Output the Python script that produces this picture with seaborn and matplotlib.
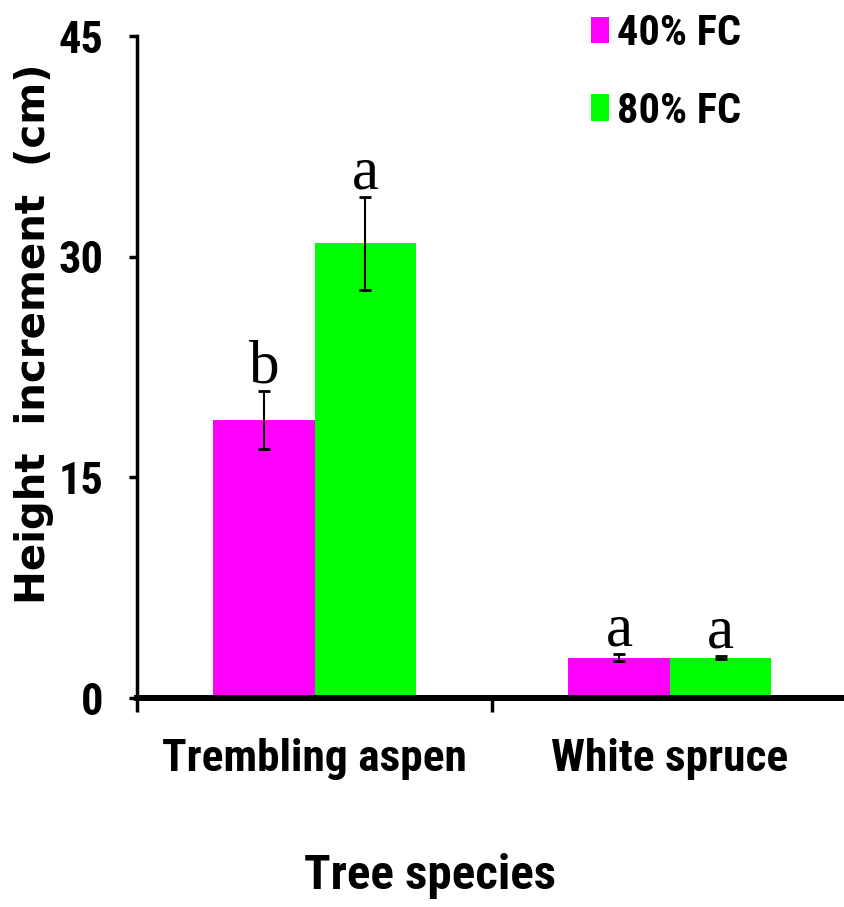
import os
import matplotlib
matplotlib.use("Agg")
import matplotlib.pyplot as plt
import seaborn as sns
import pandas as pd
from matplotlib import font_manager as fm
from matplotlib.ticker import FixedLocator

# ---- data ----
species = ["Trembling aspen", "White spruce"]
treatments = ["40% FC", "80% FC"]
height_40 = [18.9, 2.75]
height_80 = [30.9, 2.75]
err_40 = [1.95, 0.25]
err_80 = [3.15, 0.12]
letters_40 = ["b", "a"]
letters_80 = ["a", "a"]
yticks = [0, 15, 30, 45]
colors = ["#FF00FF", "#00FF00"]

df = pd.DataFrame({
    "species": species * 2,
    "treatment": [treatments[0]] * 2 + [treatments[1]] * 2,
    "height": height_40 + height_80,
})

sns.set_style("white")
plt.rcParams["font.family"] = ["Liberation Sans", "DejaVu Sans"]
for k in ["text.color", "axes.labelcolor", "xtick.color", "ytick.color"]:
    plt.rcParams[k] = "black"

# ---- pick the narrowest suitable bold sans face that is installed ----
prefs = ["liberationsansnarrow-bold.", "arialnarrowbold", "arial narrow bold",
         "arialnb", "notosans-condensedbold.", "robotocondensed-bold.",
         "opensans_condensed-bold.", "opensans-condensedbold.",
         "notosans-semicondensedbold.", "dejavusanscondensed-bold."]
best = None
files = [f.fname for f in fm.fontManager.ttflist]
for p in prefs:
    for fn in files:
        if p in os.path.basename(fn).lower().replace(" ", "") or p in os.path.basename(fn).lower():
            best = fn
            break
    if best:
        break


def nfont(size):
    if best:
        return fm.FontProperties(fname=best, size=size)
    return fm.FontProperties(family=["Liberation Sans", "DejaVu Sans"],
                             weight="bold", size=size)


fig = plt.figure(figsize=(8.44, 9.07), dpi=100)
ax = fig.add_axes([0.1623, 0.2304, 0.8418, 0.7299])

sns.barplot(data=df, x="species", y="height", hue="treatment",
            order=species, hue_order=treatments, palette=colors,
            saturation=1, width=0.571, gap=0, errorbar=None,
            linewidth=0, edgecolor="none", ax=ax)

errs = [err_40, err_80]
letters = [letters_40, letters_80]
for cont, er, lt in zip(ax.containers, errs, letters):
    for p, e, l in zip(cont.patches, er, lt):
        x = p.get_x() + p.get_width() / 2
        y = p.get_height()
        ax.errorbar(x, y, yerr=e, fmt="none", ecolor="black",
                    elinewidth=1.5, capsize=4.5, capthick=2.0, zorder=5)
        ax.annotate(l, (x, y + e), xytext=(0, 6), textcoords="offset points",
                    ha="center", va="baseline", fontsize=44,
                    family="Liberation Serif", color="black")

ax.set_xlim(-0.5, 1.5)
ax.set_ylim(0, 45)
ax.set_yticks(yticks)
ax.set_yticklabels([str(v) for v in yticks])
ax.xaxis.set_minor_locator(FixedLocator([-0.5, 0.5, 1.5]))
ax.tick_params(axis="x", which="major", bottom=True, length=0, pad=29)
ax.tick_params(axis="x", which="minor", bottom=True, length=10, width=2.5,
               direction="out", color="black")
ax.tick_params(axis="y", which="major", left=True, length=6, width=2.5,
               direction="out", pad=18, color="black")

for s in ["top", "right"]:
    ax.spines[s].set_visible(False)
ax.spines["left"].set_linewidth(2.5)
ax.spines["left"].set_color("black")
ax.spines["bottom"].set_linewidth(4.3)
ax.spines["bottom"].set_color("black")

ax.set_ylabel("Height  increment  (cm)", fontsize=29, fontweight="bold",
              family="DejaVu Sans")
ax.yaxis.set_label_coords(-0.117, 0.55)

# size the narrow face so that it fills about the same room as in the reference
r = fig.canvas.get_renderer()


def fitted(text, target_w, cap_px, wexp):
    t = fig.text(0, 0, text, fontproperties=nfont(30))
    w = t.get_window_extent(r).width
    t.remove()
    s_w = 30 * target_w / w
    return s_w ** wexp * cap_px ** (1 - wexp)


s_tick = fitted("Trembling aspen", 280, 35, 0.45)
s_ytick = fitted("45", 36, 35, 0.3)
s_xlab = fitted("Tree species", 255, 35, 0.45)
s_leg = fitted("40% FC", 113, 33, 0.45)

for lab in ax.get_xticklabels():
    lab.set_fontproperties(nfont(s_tick))
for lab in ax.get_yticklabels():
    lab.set_fontproperties(nfont(s_ytick))

ax.set_xlabel("Tree species", fontproperties=nfont(s_xlab))
ax.xaxis.label.set_va("baseline")
ax.xaxis.set_label_coords(0.413, (698 - 889) / 662)

handles, labels = ax.get_legend_handles_labels()
ax.get_legend().remove()
fpx = s_leg * 100 / 72
fig.legend(handles, labels, loc="upper left",
           bbox_to_anchor=(591 / 844, 1 - 13 / 907),
           frameon=False, borderpad=0, borderaxespad=0,
           handlelength=18 / fpx, handleheight=25 / fpx,
           handletextpad=8 / fpx, labelspacing=(79 - fpx * 1.0) / fpx,
           prop=nfont(s_leg))

fig.savefig("out.png", dpi=100)
